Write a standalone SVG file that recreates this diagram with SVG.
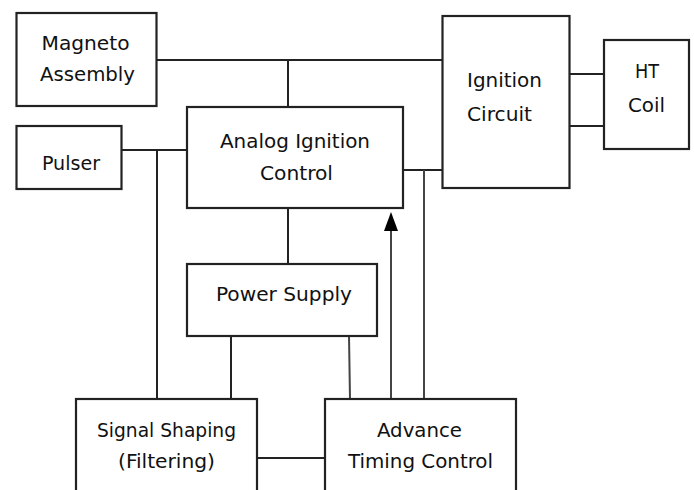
<svg xmlns="http://www.w3.org/2000/svg" width="694" height="490" viewBox="0 0 694 490">
<style>
.box{fill:#fff;stroke:#222;stroke-width:2.2}
.ln{fill:none;stroke:#222;stroke-width:2}
.lg{fill:none;stroke:#444;stroke-width:2}
text{font-family:"DejaVu Sans Condensed","Liberation Sans",Arial,sans-serif;font-size:20px;fill:#111;text-anchor:start}
</style>
<g id="connectors">
<path class="ln" d="M156 60 H442"/>
<path class="ln" d="M288 60 V107"/>
<path class="ln" d="M122 150 H187"/>
<path class="ln" d="M157 150 V399"/>
<path class="ln" d="M288 208 V264"/>
<path class="ln" d="M231 336 V399"/>
<path class="lg" d="M349 336 L350 399"/>
<path class="ln" d="M403 170 H442"/>
<path class="lg" d="M424 170 V399"/>
<path class="ln" d="M569 74 H604"/>
<path class="ln" d="M569 126 H604"/>
<path class="ln" d="M257 458 H325"/>
<path class="lg" d="M391 399 V230"/>
<path d="M391 212 L398 231 L384 231 Z" fill="#000"/>
</g>
<g id="magneto">
<rect class="box" x="16.5" y="13" width="140" height="93"/>
<text x="41.5" y="50" textLength="88" lengthAdjust="spacingAndGlyphs">Magneto</text>
<text x="40" y="81" textLength="95" lengthAdjust="spacingAndGlyphs">Assembly</text>
</g>
<g id="pulser">
<rect class="box" x="16.5" y="126" width="105" height="63"/>
<text x="42" y="170" textLength="58" lengthAdjust="spacingAndGlyphs">Pulser</text>
</g>
<g id="analog">
<rect class="box" x="187" y="107" width="216" height="101"/>
<text x="220" y="148" textLength="150" lengthAdjust="spacingAndGlyphs">Analog Ignition</text>
<text x="260" y="180" textLength="73" lengthAdjust="spacingAndGlyphs">Control</text>
</g>
<g id="ignition">
<rect class="box" x="442.5" y="16" width="127" height="172"/>
<text x="467" y="87" textLength="75" lengthAdjust="spacingAndGlyphs">Ignition</text>
<text x="467" y="121" textLength="65" lengthAdjust="spacingAndGlyphs">Circuit</text>
</g>
<g id="htcoil">
<rect class="box" x="604" y="40" width="85" height="109"/>
<text x="635" y="78" textLength="24" lengthAdjust="spacingAndGlyphs">HT</text>
<text x="628" y="112" textLength="37" lengthAdjust="spacingAndGlyphs">Coil</text>
</g>
<g id="power">
<rect class="box" x="187" y="264" width="190" height="72"/>
<text x="216" y="301" textLength="136" lengthAdjust="spacingAndGlyphs">Power Supply</text>
</g>
<g id="signal">
<rect class="box" x="76" y="399" width="181" height="100"/>
<text x="97" y="437" textLength="139" lengthAdjust="spacingAndGlyphs">Signal Shaping</text>
<text x="118" y="468" textLength="97" lengthAdjust="spacingAndGlyphs">(Filtering)</text>
</g>
<g id="advance">
<rect class="box" x="325" y="399" width="191" height="100"/>
<text x="377" y="437" textLength="85" lengthAdjust="spacingAndGlyphs">Advance</text>
<text x="348" y="468" textLength="145" lengthAdjust="spacingAndGlyphs">Timing Control</text>
</g>
</svg>
